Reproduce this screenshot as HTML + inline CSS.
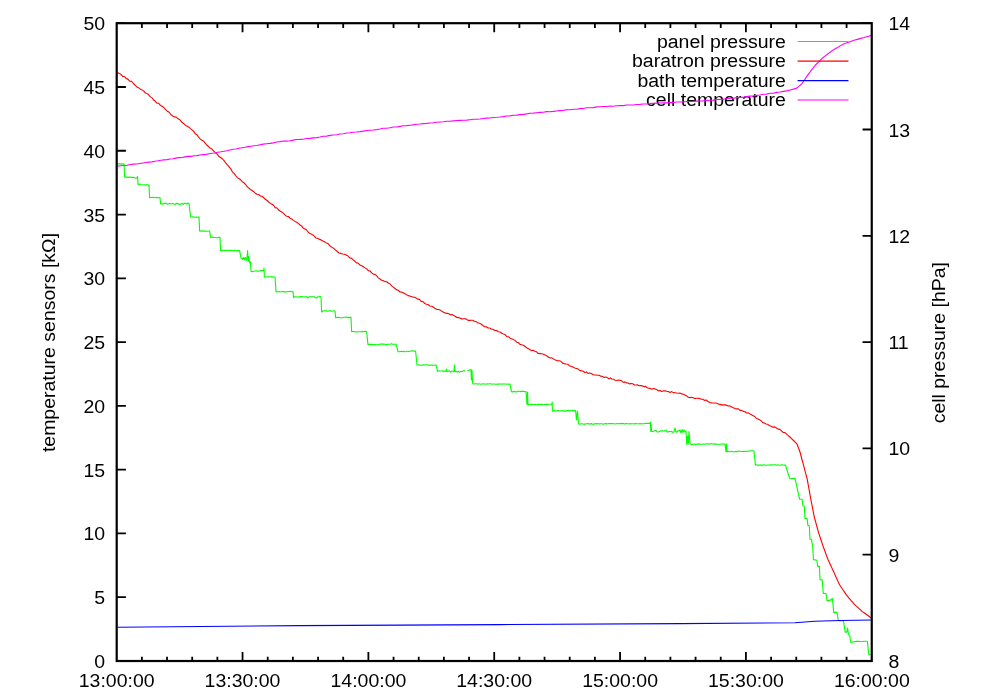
<!DOCTYPE html>
<html><head><meta charset="utf-8"><title>plot</title>
<style>
html,body{margin:0;padding:0;background:#fff;}
body{width:1000px;height:700px;overflow:hidden;font-family:"Liberation Sans",sans-serif;}
svg{display:block;will-change:transform;}
</style></head><body>
<svg width="1000" height="700" viewBox="0 0 1000 700">
<rect width="1000" height="700" fill="#fff"/>
<g font-family="Liberation Sans, sans-serif" font-size="19" fill="#000">
<text transform="translate(785.8,47.5) scale(1.026,1)" text-anchor="end">panel pressure</text>
<text transform="translate(785.8,67.1) scale(1.026,1)" text-anchor="end">baratron pressure</text>
<text transform="translate(785.8,86.6) scale(1.026,1)" text-anchor="end">bath temperature</text>
<text transform="translate(785.8,106.0) scale(1.026,1)" text-anchor="end">cell temperature</text>
</g>
<g fill="none" stroke-width="1.1" stroke-linejoin="round">
<path stroke="#00ff00" d="M117.4,164.0 L118.7,163.9 L120.0,163.8 L121.4,164.1 L122.7,163.7 L124.0,164.0 L124.6,177.0 L125.7,177.1 L126.8,177.1 L127.9,177.0 L129.0,177.4 L130.1,177.1 L131.3,177.5 L132.4,177.3 L133.5,177.4 L134.6,177.8 L135.7,178.1 L136.8,178.0 L137.6,176.4 L138.0,184.4 L139.1,184.2 L140.2,184.3 L141.3,184.7 L142.4,185.0 L143.5,184.8 L144.6,184.7 L145.7,185.2 L146.8,184.6 L147.9,185.2 L149.0,185.0 L149.6,197.6 L150.8,197.5 L151.9,197.4 L153.1,197.3 L154.2,197.5 L155.4,197.8 L156.5,197.4 L157.7,197.7 L158.8,197.7 L160.0,197.6 L160.6,204.0 L161.7,203.8 L162.9,204.1 L164.0,203.2 L165.1,203.1 L166.3,203.4 L167.4,204.2 L168.6,203.8 L169.7,203.5 L170.8,204.0 L172.0,203.8 L173.1,203.5 L174.2,204.3 L175.4,204.2 L176.5,203.3 L177.6,203.9 L178.8,203.8 L179.9,204.4 L181.0,204.1 L182.2,203.3 L183.3,204.5 L184.5,203.0 L185.6,203.5 L186.7,204.1 L187.9,203.0 L189.0,203.6 L190.6,217.0 L191.8,217.0 L193.0,216.7 L194.2,217.1 L195.4,217.2 L196.6,217.1 L197.8,217.3 L199.0,217.0 L199.6,231.0 L200.7,230.9 L201.8,231.1 L202.9,231.1 L204.0,231.1 L205.2,231.0 L206.3,231.2 L207.4,231.3 L208.5,231.0 L209.6,231.0 L210.6,237.4 L211.8,237.5 L212.9,237.1 L214.1,237.5 L215.3,237.5 L216.5,237.7 L217.7,237.6 L218.8,237.2 L220.0,237.4 L220.6,250.6 L221.7,250.5 L222.8,250.7 L224.0,250.3 L225.1,250.6 L226.2,250.4 L227.3,250.3 L228.4,250.3 L229.5,250.8 L230.7,250.3 L231.8,250.4 L232.9,250.5 L234.0,250.9 L235.1,250.3 L236.2,250.6 L237.4,250.6 L238.5,250.9 L239.6,250.6 L241.0,258.0 L242.5,259.3 L243.4,257.6 L244.3,260.0 L245.2,257.2 L246.2,260.4 L247.0,258.0 L247.6,250.6 L248.2,261.5 L248.8,256.5 L249.6,263.0 L250.4,262.0 L251.0,271.4 L252.1,271.6 L253.3,271.5 L254.4,271.0 L255.6,271.0 L256.7,270.9 L257.9,271.2 L259.0,271.2 L260.2,270.6 L261.3,270.5 L262.5,270.5 L263.6,270.6 L264.0,268.0 L264.4,277.0 L265.6,276.8 L266.8,277.0 L267.9,277.1 L269.1,276.8 L270.3,276.7 L271.5,276.9 L272.6,276.9 L273.8,277.0 L275.0,277.0 L276.0,291.6 L277.1,291.9 L278.3,291.7 L279.4,291.6 L280.5,291.7 L281.7,291.7 L282.8,291.3 L283.9,291.9 L285.1,291.8 L286.2,291.9 L287.3,291.8 L288.5,291.5 L289.6,291.5 L290.7,291.3 L291.9,291.7 L293.0,291.6 L293.6,297.6 L294.7,296.8 L295.9,296.8 L297.0,297.0 L298.2,296.9 L299.3,297.2 L300.5,296.6 L301.6,296.5 L302.7,296.8 L303.9,296.7 L305.0,297.1 L306.2,296.5 L307.3,298.0 L308.4,297.5 L309.6,296.6 L310.7,296.8 L311.9,296.9 L313.0,296.9 L314.1,296.5 L315.3,297.8 L316.4,298.0 L317.6,297.0 L318.7,297.0 L319.9,296.3 L321.0,297.0 L321.6,312.0 L323.0,311.0 L324.2,310.7 L325.4,310.9 L326.6,310.8 L327.8,311.2 L329.0,310.8 L330.2,310.7 L331.4,311.3 L332.6,311.0 L333.8,310.8 L335.0,311.0 L335.6,317.6 L336.8,317.6 L338.0,317.2 L339.2,317.5 L340.3,317.8 L341.5,317.7 L342.7,317.6 L343.9,317.2 L345.1,317.3 L346.3,317.1 L347.4,317.5 L348.6,317.3 L349.8,317.4 L351.0,317.2 L351.6,331.6 L352.8,331.5 L353.9,331.4 L355.1,331.8 L356.2,331.9 L357.4,331.8 L358.5,331.8 L359.7,331.8 L360.8,331.8 L362.0,331.4 L363.1,331.6 L364.3,331.5 L365.4,331.3 L366.6,331.6 L368.0,344.6 L369.1,344.2 L370.2,344.4 L371.4,344.4 L372.5,344.6 L373.6,344.8 L374.7,344.4 L375.8,344.7 L377.0,344.7 L378.1,344.7 L379.2,344.3 L380.3,344.1 L381.4,344.1 L382.6,344.1 L383.7,344.1 L384.8,344.3 L385.9,344.5 L387.0,344.4 L388.2,344.2 L389.3,344.3 L390.4,344.3 L391.5,343.8 L392.6,344.2 L393.8,344.3 L394.9,344.2 L396.0,344.0 L398.0,351.6 L399.1,351.7 L400.2,351.5 L401.3,351.3 L402.4,351.7 L403.5,351.3 L404.6,351.6 L405.7,351.7 L406.8,351.2 L407.9,351.2 L409.0,351.5 L410.1,351.3 L411.2,350.9 L412.3,350.9 L413.4,350.8 L414.5,351.3 L415.6,351.0 L417.0,365.0 L418.1,365.2 L419.2,364.8 L420.4,365.2 L421.5,365.3 L422.6,365.1 L423.7,364.9 L424.8,365.0 L425.9,364.7 L427.1,364.7 L428.2,365.3 L429.3,365.1 L430.4,365.0 L431.5,365.3 L432.6,365.0 L433.8,365.3 L434.9,365.2 L436.0,365.0 L437.6,371.4 L438.8,370.9 L440.0,371.0 L441.2,371.0 L442.4,370.9 L443.6,371.6 L444.8,371.0 L446.0,371.4 L446.4,369.0 L447.0,371.4 L448.2,371.3 L449.3,370.7 L450.5,372.1 L451.7,371.1 L452.8,371.3 L454.0,371.4 L454.4,365.0 L455.0,371.4 L456.1,371.6 L457.2,372.1 L458.3,371.3 L459.4,372.2 L460.6,371.4 L461.7,371.5 L462.8,371.4 L463.9,370.5 L465.0,371.4 M467.4,370.8 L469.0,370.2 L471.0,369.6 L471.4,380.0 L472.0,370.0 L472.6,383.0 L473.0,384.0 L474.1,384.0 L475.2,383.8 L476.4,383.7 L477.5,384.2 L478.6,383.8 L479.7,384.0 L480.8,384.2 L482.0,384.0 L483.1,383.9 L484.2,384.0 L485.3,384.0 L486.5,384.2 L487.6,383.7 L488.7,384.0 L489.8,383.8 L490.9,383.8 L492.1,384.2 L493.2,384.0 L494.3,384.0 L495.4,384.2 L496.5,384.3 L497.7,384.0 L498.8,384.1 L499.9,384.0 L501.0,384.0 L502.2,384.1 L503.3,384.0 L504.4,384.0 L505.5,384.0 L506.6,384.3 L507.8,384.1 L508.9,384.3 L510.0,384.0 L511.4,391.6 L512.5,391.9 L513.6,391.4 L514.8,391.6 L515.9,391.9 L517.0,391.8 L518.1,391.3 L519.3,391.3 L520.4,391.6 L521.5,391.3 L522.6,391.4 L523.8,391.3 L524.9,391.7 L526.0,391.6 L527.0,404.4 L527.6,392.0 L528.0,404.4 L529.1,404.6 L530.3,404.7 L531.4,404.2 L532.6,404.6 L533.7,404.5 L534.9,404.2 L536.0,404.7 L537.1,404.7 L538.3,404.2 L539.4,404.7 L540.6,404.3 L541.7,404.4 L542.9,404.7 L544.0,404.6 L545.1,404.2 L546.3,404.4 L547.4,404.4 L548.6,404.3 L549.7,404.2 L550.9,404.3 L552.0,404.4 L552.2,402.0 L552.4,411.0 L553.5,411.1 L554.6,410.6 L555.7,411.0 L556.8,410.9 L557.9,410.6 L559.0,410.8 L560.1,411.0 L561.2,410.9 L562.3,410.5 L563.4,411.1 L564.6,411.0 L565.7,411.1 L566.8,410.5 L567.9,410.6 L569.0,410.4 L570.1,410.9 L571.2,410.5 L572.3,410.4 L573.4,410.6 L574.5,410.9 L575.6,410.6 L576.5,420.0 L577.5,411.0 L578.5,424.0 L579.0,424.0 L580.1,424.2 L581.2,423.8 L582.3,423.7 L583.4,424.3 L584.5,424.0 L585.7,424.1 L586.8,423.7 L587.9,423.6 L589.0,424.1 L590.1,423.9 L591.2,423.6 L592.3,424.2 L593.4,424.0 L594.5,424.1 L595.6,423.6 L596.8,424.1 L597.9,423.6 L599.0,424.1 L600.1,423.8 L601.2,423.8 L602.3,423.9 L603.4,424.2 L604.5,423.7 L605.6,423.6 L606.7,423.9 L607.8,423.7 L609.0,423.6 L610.1,423.6 L611.2,423.5 L612.3,423.6 L613.4,423.7 L614.5,423.7 L615.6,424.0 L616.7,423.6 L617.8,423.8 L618.9,423.5 L620.0,423.7 L621.2,423.4 L622.3,423.6 L623.4,423.4 L624.5,423.9 L625.6,423.8 L626.7,423.5 L627.8,423.7 L628.9,424.0 L630.0,423.4 L631.1,423.9 L632.2,423.7 L633.4,423.7 L634.5,423.9 L635.6,423.6 L636.7,423.7 L637.8,423.8 L638.9,424.0 L640.0,423.5 L641.1,423.9 L642.2,423.8 L643.3,423.7 L644.5,423.6 L645.6,423.5 L646.7,423.3 L647.8,423.4 L648.9,423.3 L650.0,423.6 L650.4,422.0 L650.8,431.5 L651.2,424.5 L651.6,431.3 L652.7,431.7 L653.9,430.9 L655.0,430.7 L656.1,430.6 L657.2,431.9 L658.4,432.0 L659.5,431.6 L660.6,430.9 L661.7,430.8 L662.9,430.9 L664.0,431.3 L666.0,430.2 L667.0,432.0 L668.2,431.9 L669.3,431.3 L670.5,431.7 L671.7,431.3 L672.8,432.5 L674.0,431.6 L675.0,428.0 L676.0,432.3 L678.0,431.0 L680.0,430.0 L681.0,433.0 L682.0,429.5 L683.0,432.5 L684.0,429.8 L685.0,432.0 L686.0,431.0 L686.8,444.4 L687.6,436.0 L688.3,444.0 L689.0,431.5 L690.0,443.0 L691.0,444.3 L692.1,444.6 L693.3,444.3 L694.4,444.1 L695.5,444.6 L696.7,444.1 L697.8,444.1 L698.9,443.9 L700.1,444.1 L701.2,444.2 L702.3,444.2 L703.5,444.0 L704.6,444.2 L705.7,443.8 L706.9,444.0 L708.0,443.9 L709.1,444.1 L710.3,443.8 L711.4,443.8 L712.5,444.0 L713.7,443.9 L714.8,444.1 L715.9,444.1 L717.1,444.2 L718.2,444.2 L719.3,444.2 L720.5,444.3 L721.6,444.0 L722.7,443.9 L723.9,444.3 L725.0,444.0 L726.0,451.6 L726.5,444.0 L727.0,451.6 L728.1,451.3 L729.2,451.7 L730.4,451.6 L731.5,451.2 L732.6,451.7 L733.8,451.7 L734.9,451.5 L736.0,451.6 L737.1,451.6 L738.2,451.1 L739.4,451.3 L740.5,451.3 L741.6,451.5 L742.8,451.5 L743.9,451.5 L745.0,451.3 L746.1,451.4 L747.2,451.3 L748.4,451.3 L749.5,450.9 L750.6,450.7 L751.8,450.8 L752.9,450.9 L754.0,451.0 L755.4,465.0 L756.5,464.7 L757.6,465.2 L758.7,465.0 L759.8,465.1 L761.0,465.1 L762.1,465.1 L763.2,465.0 L764.3,464.7 L765.4,465.2 L766.5,465.2 L767.6,465.0 L768.7,465.0 L769.8,465.1 L771.0,464.7 L772.1,465.2 L773.2,464.8 L774.3,464.7 L775.4,464.8 L776.5,465.2 L777.6,464.8 L778.7,465.2 L779.8,465.3 L781.0,465.0 L782.1,464.9 L783.2,465.0 L784.3,465.1 L785.4,465.0 L789.7,478.6 L791.0,478.7 L792.4,478.5 L793.7,478.5 L795.0,478.3 L799.7,499.3 L802.1,499.3 L802.9,505.7 L804.3,506.0 L805.0,518.6 L807.1,518.6 L807.9,525.4 L809.3,525.7 L810.0,539.3 L811.4,539.3 L812.6,545.7 L813.5,559.6 L816.9,560.2 L817.7,566.4 L819.4,566.4 L820.0,579.6 L822.2,579.9 L823.3,593.5 L826.0,593.5 L827.1,600.9 L830.4,600.1 L832.4,598.5 L833.7,612.4 L837.0,612.4 L838.3,620.6 L839.6,620.4 L840.9,620.6 L842.2,620.7 L843.5,621.0 L845.2,632.1 L846.8,632.1 L847.6,628.0 L848.5,634.6 L849.8,635.4 L850.6,642.3 L851.8,642.3 L853.1,641.9 L854.3,641.9 L855.5,641.4 L856.8,641.3 L858.0,641.5 L859.2,641.3 L860.4,641.5 L861.5,641.5 L862.7,641.5 L863.9,641.2 L865.0,641.3 L866.2,641.2 L867.4,641.2 L868.7,654.3 L870.6,655.1"/>
<path stroke="#ff0000" d="M117.4,72.6 L119.2,73.6 L120.9,74.3 L122.7,76.4 L124.4,76.5 L126.2,78.6 L127.9,79.1 L129.7,81.1 L131.6,81.4 L133.4,83.5 L135.2,85.4 L137.0,87.1 L138.9,87.9 L140.7,89.4 L142.3,90.1 L143.9,91.1 L145.5,93.1 L147.1,93.6 L148.7,94.8 L150.3,96.9 L152.0,97.9 L153.6,100.0 L155.3,101.3 L157.0,103.1 L158.7,103.3 L160.4,105.4 L162.1,106.3 L163.8,107.5 L165.6,109.7 L167.4,111.2 L169.2,112.3 L171.0,114.8 L172.8,116.0 L174.5,116.9 L176.3,117.2 L178.0,118.8 L179.9,119.8 L181.8,122.1 L183.8,123.7 L185.7,125.4 L187.3,126.3 L188.9,127.2 L190.5,128.6 L192.1,129.9 L193.7,131.4 L195.3,133.9 L196.9,134.6 L198.5,137.0 L200.1,138.8 L201.8,140.3 L203.4,140.9 L205.0,142.8 L206.7,145.0 L208.3,146.3 L210.0,148.1 L211.7,148.9 L213.3,150.6 L215.0,152.4 L216.9,153.9 L218.8,156.3 L220.6,157.5 L222.5,159.0 L224.2,160.9 L225.9,163.2 L227.6,165.1 L229.2,166.9 L230.9,169.1 L232.6,172.2 L234.3,173.6 L236.0,176.0 L237.6,178.0 L239.2,178.6 L240.8,180.0 L242.4,181.8 L244.0,182.8 L245.6,184.5 L247.2,186.7 L248.8,188.1 L250.4,189.5 L252.0,190.5 L253.7,191.7 L255.4,193.2 L257.1,194.3 L258.9,194.8 L260.6,196.1 L262.3,196.3 L264.0,198.0 L265.6,199.6 L267.2,200.5 L268.8,202.2 L270.4,203.4 L272.0,204.2 L273.6,205.2 L275.2,207.7 L276.8,207.9 L278.4,209.7 L280.0,211.0 L281.7,212.0 L283.3,213.1 L285.0,214.8 L286.7,216.3 L288.3,216.5 L290.0,218.2 L291.7,218.9 L293.3,220.4 L295.0,221.4 L296.7,222.2 L298.3,223.4 L300.0,225.0 L301.6,225.9 L303.2,228.1 L304.8,228.9 L306.4,229.8 L308.0,232.0 L309.6,233.4 L311.2,234.0 L312.8,234.9 L314.4,236.3 L316.0,238.0 L317.7,238.3 L319.4,239.4 L321.1,239.9 L322.9,240.9 L324.6,241.7 L326.3,242.9 L328.0,243.6 L329.8,245.7 L331.7,247.1 L333.5,248.2 L335.3,249.8 L337.2,251.5 L339.0,253.0 L340.8,253.4 L342.6,254.0 L344.4,254.2 L346.2,255.1 L348.0,256.0 L349.7,257.9 L351.4,258.1 L353.1,259.9 L354.9,261.3 L356.6,262.9 L358.3,263.3 L360.0,265.0 L361.7,265.7 L363.3,266.7 L365.0,267.9 L366.7,268.9 L368.3,270.6 L370.0,271.0 L371.7,272.8 L373.3,274.2 L375.0,274.4 L376.7,275.7 L378.3,277.9 L380.0,279.0 L381.7,280.3 L383.3,280.6 L385.0,281.6 L386.7,281.7 L388.3,283.0 L390.0,284.0 L391.7,285.9 L393.3,287.1 L395.0,288.5 L396.7,289.9 L398.3,290.3 L400.0,292.0 L401.6,292.1 L403.2,292.8 L404.8,293.8 L406.4,294.6 L408.0,295.6 L409.6,295.9 L411.2,296.4 L412.8,297.1 L414.4,297.3 L416.0,298.0 L417.8,299.1 L419.5,299.4 L421.2,301.4 L423.0,301.7 L424.8,303.5 L426.5,304.2 L428.2,304.7 L430.0,306.0 L431.8,306.3 L433.5,307.3 L435.2,308.6 L437.0,309.5 L438.8,309.5 L440.5,310.2 L442.2,311.6 L444.0,312.4 L445.6,313.1 L447.2,313.4 L448.8,313.7 L450.4,314.8 L452.0,314.6 L453.6,315.5 L455.2,316.3 L456.8,317.5 L458.4,317.6 L460.0,318.0 L461.6,318.9 L463.2,318.7 L464.8,318.7 L466.4,319.1 L468.0,320.4 L469.6,320.4 L471.2,320.3 L472.8,320.3 L474.4,321.2 L476.0,321.6 L477.7,322.7 L479.4,323.3 L481.1,324.0 L482.9,325.5 L484.6,326.7 L486.3,326.7 L488.0,328.0 L489.7,328.0 L491.4,328.9 L493.1,329.6 L494.9,330.5 L496.6,330.5 L498.3,331.8 L500.0,332.0 L501.7,333.3 L503.4,334.0 L505.1,334.6 L506.9,336.6 L508.6,336.8 L510.3,338.4 L512.0,339.0 L513.6,339.6 L515.2,340.6 L516.8,342.2 L518.4,342.6 L520.0,344.4 L521.6,344.8 L523.2,345.3 L524.8,346.3 L526.4,347.5 L528.0,348.6 L529.7,349.5 L531.4,350.6 L533.1,350.3 L534.9,351.3 L536.6,351.8 L538.3,353.5 L540.0,353.6 L541.7,353.8 L543.4,354.3 L545.1,354.9 L546.9,356.0 L548.6,357.3 L550.3,357.9 L552.0,358.0 L553.8,359.1 L555.5,360.1 L557.2,360.8 L559.0,360.8 L560.8,361.3 L562.5,363.1 L564.2,363.6 L566.0,364.0 L567.8,364.2 L569.5,365.9 L571.2,366.3 L573.0,367.1 L574.8,367.9 L576.5,368.5 L578.2,369.1 L580.0,370.6 L581.6,370.8 L583.2,371.3 L584.8,372.5 L586.4,371.9 L588.0,373.4 L589.6,372.9 L591.2,373.5 L592.8,374.5 L594.4,375.0 L596.0,375.0 L597.6,375.3 L599.2,375.2 L600.8,376.2 L602.4,376.4 L604.0,377.5 L605.6,377.0 L607.2,377.6 L608.8,378.7 L610.4,378.0 L612.0,379.0 L613.6,379.3 L615.2,380.2 L616.8,380.5 L618.4,380.0 L620.0,380.4 L621.6,380.8 L623.2,382.3 L624.8,381.9 L626.4,382.9 L628.0,383.0 L629.6,383.9 L631.2,383.5 L632.8,383.8 L634.4,385.0 L636.0,385.0 L637.6,384.9 L639.2,385.8 L640.8,385.6 L642.4,385.9 L644.0,386.6 L645.6,386.4 L647.2,387.7 L648.8,388.3 L650.4,388.4 L652.0,389.2 L653.6,388.4 L655.2,389.1 L656.8,389.8 L658.4,390.8 L660.0,390.6 L661.7,391.4 L663.3,390.9 L665.0,390.9 L666.7,391.3 L668.3,391.6 L670.0,392.4 L671.7,391.6 L673.3,392.6 L675.0,392.7 L676.7,393.0 L678.3,393.2 L680.0,393.0 L681.7,393.9 L683.3,394.3 L685.0,395.1 L686.7,395.9 L688.3,397.2 L690.0,397.6 L691.6,397.3 L693.2,397.7 L694.8,398.6 L696.4,398.2 L698.0,398.2 L699.6,398.4 L701.2,399.3 L702.8,399.3 L704.4,400.4 L706.0,400.0 L708.0,401.5 L710.0,402.6 L712.0,403.0 L713.6,403.0 L715.2,403.0 L716.8,403.3 L718.4,404.1 L720.0,404.4 L721.7,404.9 L723.3,404.9 L725.0,404.9 L726.7,405.4 L728.3,405.9 L730.0,406.0 L731.7,406.9 L733.3,407.7 L735.0,408.5 L736.7,408.9 L738.3,408.8 L740.0,410.4 L741.7,410.4 L743.3,411.4 L745.0,411.8 L746.7,413.0 L748.3,412.9 L750.0,414.0 L751.6,414.7 L753.2,415.7 L754.8,416.5 L756.4,418.5 L758.0,419.1 L759.6,419.8 L761.2,420.9 L762.8,422.6 L764.4,423.0 L766.0,424.0 L767.8,424.3 L769.5,425.8 L771.2,426.2 L773.0,427.3 L774.8,426.9 L776.5,428.0 L778.2,429.1 L780.0,429.4 L781.7,431.1 L783.3,432.5 L785.0,432.6 L786.7,434.2 L788.3,435.7 L790.0,437.0 L791.8,438.8 L793.5,440.5 L795.2,442.2 L797.0,444.0 L800.0,452.0 L802.1,460.0 L803.8,466.2 L805.4,472.4 L807.1,478.6 L808.9,488.6 L810.7,498.6 L812.5,507.9 L814.3,517.1 L816.5,525.0 L818.6,532.9 L820.8,539.3 L822.9,545.7 L824.6,550.2 L826.2,554.8 L827.9,559.3 L829.5,562.8 L831.2,566.4 L832.8,570.0 L834.5,573.6 L836.1,577.3 L837.8,580.9 L839.4,584.5 L841.0,587.0 L842.7,589.5 L844.4,591.9 L846.0,594.4 L847.6,596.4 L849.3,598.3 L850.9,600.3 L852.6,602.2 L854.2,604.2 L855.8,605.7 L857.5,607.2 L859.1,608.6 L860.8,610.1 L862.4,611.6 L864.1,612.8 L865.8,614.0 L867.6,615.3 L869.3,616.5 L871.0,617.7"/>
<path stroke="#0000ff" d="M117.4,627.2 L300.0,625.6 L500.0,624.6 L680.0,623.6 L795.0,622.8 L815.0,621.2 L840.0,620.5 L871.0,620.0"/>
<path stroke="#ff00ff" d="M117.4,166.3 L120.6,165.8 L123.9,165.5 L127.1,165.2 L130.3,164.5 L133.5,164.1 L136.8,164.0 L140.0,163.5 L143.0,163.0 L146.0,162.5 L149.0,162.1 L152.0,161.9 L155.0,161.2 L158.0,160.8 L161.0,160.3 L164.0,159.9 L167.0,159.6 L170.0,159.0 L173.0,158.8 L176.0,158.1 L179.0,157.6 L182.0,157.5 L185.0,156.9 L188.0,156.4 L191.0,156.4 L194.0,155.8 L197.0,155.6 L200.0,155.0 L203.0,154.6 L206.0,154.4 L209.0,153.8 L212.0,153.2 L215.0,153.0 L218.0,152.2 L221.0,151.8 L224.0,151.3 L227.0,150.8 L230.0,150.0 L233.0,149.3 L236.0,149.0 L239.0,148.3 L242.0,147.8 L245.0,147.3 L248.0,146.6 L251.0,146.2 L254.0,145.8 L257.0,145.5 L260.0,144.8 L263.3,144.1 L266.7,143.7 L270.0,143.4 L273.3,142.9 L276.7,142.0 L280.0,141.6 L283.3,141.0 L286.7,141.1 L290.0,140.7 L293.3,140.1 L296.7,139.5 L300.0,139.4 L303.3,139.2 L306.7,138.5 L310.0,138.4 L313.3,137.9 L316.7,137.6 L320.0,137.0 L323.3,136.3 L326.7,136.1 L330.0,135.4 L333.3,135.0 L336.7,134.7 L340.0,134.0 L343.3,133.8 L346.7,133.0 L350.0,132.7 L353.3,132.3 L356.7,132.0 L360.0,131.6 L363.3,131.1 L366.7,130.5 L370.0,130.2 L373.3,130.0 L376.7,129.6 L380.0,129.0 L383.3,128.3 L386.7,128.2 L390.0,127.8 L393.3,127.0 L396.7,127.0 L400.0,126.4 L403.3,125.8 L406.7,125.6 L410.0,125.2 L413.3,124.9 L416.7,124.3 L420.0,124.0 L423.3,123.6 L426.7,123.4 L430.0,123.0 L433.3,122.7 L436.7,122.3 L440.0,122.0 L443.3,121.7 L446.7,121.2 L450.0,121.3 L453.3,120.9 L456.7,120.5 L460.0,120.4 L463.3,120.3 L466.7,120.1 L470.0,119.7 L473.3,119.3 L476.7,119.2 L480.0,119.0 L483.3,118.5 L486.7,118.1 L490.0,118.0 L493.3,117.5 L496.7,117.3 L500.0,117.0 L503.3,116.6 L506.7,116.0 L510.0,115.9 L513.3,115.2 L516.7,115.1 L520.0,114.6 L523.3,114.4 L526.7,113.9 L530.0,113.3 L533.3,113.1 L536.7,112.7 L540.0,112.4 L543.3,112.3 L546.7,111.6 L550.0,111.7 L553.3,111.4 L556.7,111.0 L560.0,110.6 L563.3,110.4 L566.7,109.8 L570.0,109.8 L573.3,109.3 L576.7,109.2 L580.0,108.6 L583.3,108.5 L586.7,107.8 L590.0,107.8 L593.3,107.6 L596.7,106.9 L600.0,106.8 L603.3,106.5 L606.7,106.5 L610.0,106.0 L613.3,106.2 L616.7,105.7 L620.0,105.6 L623.3,105.6 L626.7,105.0 L630.0,105.0 L633.3,105.0 L636.7,104.5 L640.0,104.4 L643.3,104.0 L646.7,103.9 L650.0,103.6 L653.3,103.2 L656.7,103.1 L660.0,103.0 L663.3,102.7 L666.7,102.9 L670.0,102.6 L673.3,102.5 L676.7,102.0 L680.0,102.0 L683.3,102.0 L686.7,101.5 L690.0,101.5 L693.3,101.4 L696.7,101.1 L700.0,101.0 L703.3,100.9 L706.7,100.5 L710.0,100.2 L713.3,100.1 L716.7,99.5 L720.0,99.4 L723.3,99.3 L726.7,98.8 L730.0,98.3 L733.3,98.2 L736.7,97.6 L740.0,97.4 L743.3,97.2 L746.7,96.6 L750.0,96.1 L753.3,95.9 L756.7,95.4 L760.0,95.0 L763.3,94.3 L766.7,94.1 L770.0,93.3 L773.3,93.2 L776.7,92.4 L780.0,92.0 L783.3,91.4 L786.7,90.9 L790.0,90.0 L793.4,89.1 L796.8,88.1 L802.0,83.7 L807.2,75.9 L811.1,70.7 L815.0,65.5 L818.9,61.6 L822.8,57.7 L826.3,55.1 L829.7,52.5 L833.2,49.9 L836.7,47.9 L840.1,45.9 L843.6,43.9 L847.1,42.7 L850.5,41.5 L854.0,40.3 L857.4,39.4 L860.8,38.4 L864.2,37.5 L867.6,36.5 L871.0,35.6"/>
</g>
<g stroke-width="1.1">
<line x1="797.6" x2="848.5" y1="41.5" y2="41.5" stroke="#00ff00"/>
<line x1="797.6" x2="848.5" y1="61.1" y2="61.1" stroke="#ff0000"/>
<line x1="797.6" x2="848.5" y1="80.6" y2="80.6" stroke="#0000ff"/>
<line x1="797.6" x2="848.5" y1="100.0" y2="100.0" stroke="#ff00ff"/>
</g>
<g stroke="#000" stroke-width="1.8" fill="none" stroke-linecap="butt">
<rect x="116.7" y="23.2" width="755.05" height="637.80" stroke-width="2.2"/>
<path d="M141.87,661.0v-4.3M141.87,23.2v4.8M167.04,661.0v-4.3M167.04,23.2v4.8M192.20,661.0v-4.3M192.20,23.2v4.8M217.37,661.0v-4.3M217.37,23.2v4.8M242.54,661.0v-9M242.54,23.2v9M267.71,661.0v-4.3M267.71,23.2v4.8M292.88,661.0v-4.3M292.88,23.2v4.8M318.05,661.0v-4.3M318.05,23.2v4.8M343.21,661.0v-4.3M343.21,23.2v4.8M368.38,661.0v-9M368.38,23.2v9M393.55,661.0v-4.3M393.55,23.2v4.8M418.72,661.0v-4.3M418.72,23.2v4.8M443.89,661.0v-4.3M443.89,23.2v4.8M469.06,661.0v-4.3M469.06,23.2v4.8M494.22,661.0v-9M494.22,23.2v9M519.39,661.0v-4.3M519.39,23.2v4.8M544.56,661.0v-4.3M544.56,23.2v4.8M569.73,661.0v-4.3M569.73,23.2v4.8M594.90,661.0v-4.3M594.90,23.2v4.8M620.07,661.0v-9M620.07,23.2v9M645.24,661.0v-4.3M645.24,23.2v4.8M670.40,661.0v-4.3M670.40,23.2v4.8M695.57,661.0v-4.3M695.57,23.2v4.8M720.74,661.0v-4.3M720.74,23.2v4.8M745.91,661.0v-9M745.91,23.2v9M771.08,661.0v-4.3M771.08,23.2v4.8M796.25,661.0v-4.3M796.25,23.2v4.8M821.41,661.0v-4.3M821.41,23.2v4.8M846.58,661.0v-4.3M846.58,23.2v4.8M116.7,23.20h9.2M116.7,86.98h9.2M116.7,150.76h9.2M116.7,214.54h9.2M116.7,278.32h9.2M116.7,342.10h9.2M116.7,405.88h9.2M116.7,469.66h9.2M116.7,533.44h9.2M116.7,597.22h9.2M871.75,23.20h-9.2M871.75,129.50h-9.2M871.75,235.80h-9.2M871.75,342.10h-9.2M871.75,448.40h-9.2M871.75,554.70h-9.2"/>
</g>
<g font-family="Liberation Sans, sans-serif" font-size="19" fill="#000">
<text transform="translate(105.2,30.2) scale(1.026,1)" text-anchor="end">50</text>
<text transform="translate(105.2,94.0) scale(1.026,1)" text-anchor="end">45</text>
<text transform="translate(105.2,157.8) scale(1.026,1)" text-anchor="end">40</text>
<text transform="translate(105.2,221.5) scale(1.026,1)" text-anchor="end">35</text>
<text transform="translate(105.2,285.3) scale(1.026,1)" text-anchor="end">30</text>
<text transform="translate(105.2,349.1) scale(1.026,1)" text-anchor="end">25</text>
<text transform="translate(105.2,412.9) scale(1.026,1)" text-anchor="end">20</text>
<text transform="translate(105.2,476.7) scale(1.026,1)" text-anchor="end">15</text>
<text transform="translate(105.2,540.4) scale(1.026,1)" text-anchor="end">10</text>
<text transform="translate(105.2,604.2) scale(1.026,1)" text-anchor="end">5</text>
<text transform="translate(105.2,668.0) scale(1.026,1)" text-anchor="end">0</text>
<text transform="translate(888.4,30.2) scale(1.026,1)" text-anchor="start">14</text>
<text transform="translate(888.4,136.5) scale(1.026,1)" text-anchor="start">13</text>
<text transform="translate(888.4,242.8) scale(1.026,1)" text-anchor="start">12</text>
<text transform="translate(888.4,349.1) scale(1.026,1)" text-anchor="start">11</text>
<text transform="translate(888.4,455.4) scale(1.026,1)" text-anchor="start">10</text>
<text transform="translate(888.4,561.7) scale(1.026,1)" text-anchor="start">9</text>
<text transform="translate(888.4,668.0) scale(1.026,1)" text-anchor="start">8</text>
<text transform="translate(116.7,687.2) scale(1.026,1)" text-anchor="middle">13:00:00</text>
<text transform="translate(242.5,687.2) scale(1.026,1)" text-anchor="middle">13:30:00</text>
<text transform="translate(368.4,687.2) scale(1.026,1)" text-anchor="middle">14:00:00</text>
<text transform="translate(494.2,687.2) scale(1.026,1)" text-anchor="middle">14:30:00</text>
<text transform="translate(620.1,687.2) scale(1.026,1)" text-anchor="middle">15:00:00</text>
<text transform="translate(745.9,687.2) scale(1.026,1)" text-anchor="middle">15:30:00</text>
<text transform="translate(871.8,687.2) scale(1.026,1)" text-anchor="middle">16:00:00</text>
<text transform="translate(54.7,342.5) rotate(-90) scale(1.026,1)" text-anchor="middle">temperature sensors [k&#937;]</text>
<text transform="translate(945.4,342.7) rotate(-90) scale(1.026,1)" text-anchor="middle">cell pressure [hPa]</text>
</g>
</svg>
</body></html>
